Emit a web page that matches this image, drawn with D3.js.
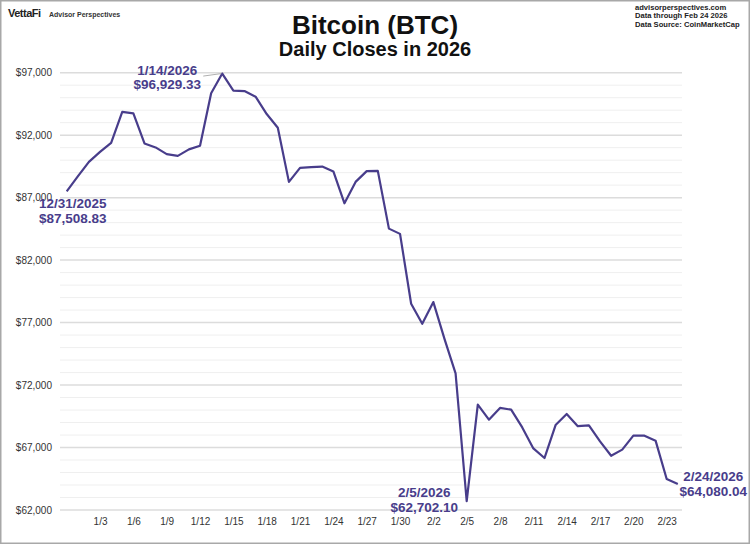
<!DOCTYPE html>
<html>
<head>
<meta charset="utf-8">
<script src="https://cdn.jsdelivr.net/npm/d3@7"></script>
<style>
	body { margin: 0; background: #fff; }
	svg { display: block; font-family: "Liberation Sans", Arial, sans-serif; }
</style>
</head>
<body>
<div id="chart-area"></div>
<script>
// Data
// ****
const days = [
	"2025-12-31",
	"2026-01-01", "2026-01-02", "2026-01-03", "2026-01-04", "2026-01-05", "2026-01-06", "2026-01-07",
	"2026-01-08", "2026-01-09", "2026-01-10", "2026-01-11", "2026-01-12", "2026-01-13", "2026-01-14",
	"2026-01-15", "2026-01-16", "2026-01-17", "2026-01-18", "2026-01-19", "2026-01-20", "2026-01-21",
	"2026-01-22", "2026-01-23", "2026-01-24", "2026-01-25", "2026-01-26", "2026-01-27", "2026-01-28",
	"2026-01-29", "2026-01-30", "2026-01-31",
	"2026-02-01", "2026-02-02", "2026-02-03", "2026-02-04", "2026-02-05", "2026-02-06", "2026-02-07",
	"2026-02-08", "2026-02-09", "2026-02-10", "2026-02-11", "2026-02-12", "2026-02-13", "2026-02-14",
	"2026-02-15", "2026-02-16", "2026-02-17", "2026-02-18", "2026-02-19", "2026-02-20", "2026-02-21",
	"2026-02-22", "2026-02-23", "2026-02-24"
]
const closes = [
	87508.83,
	88700, 89860, 90660, 91390, 93870, 93740, 91340,
	91020, 90480, 90340, 90860, 91150, 95350, 96929.33,
	95560, 95530, 95080, 93690, 92590, 88260, 89380,
	89440, 89490, 89100, 86550, 88260, 89120, 89140,
	84520, 84100, 78510,
	76900, 78640, 75700, 72940, 62702.10, 70430, 69230,
	70170, 70030, 68610, 66930, 66160, 68800, 69690,
	68710, 68770, 67490, 66340, 66830, 67950, 67950,
	67550, 64480, 64080.04
]
const xTicks = ["2026-01-03", "2026-01-06", "2026-01-09", "2026-01-12", "2026-01-15", "2026-01-18",
	"2026-01-21", "2026-01-24", "2026-01-27", "2026-01-30", "2026-02-02", "2026-02-05",
	"2026-02-08", "2026-02-11", "2026-02-14", "2026-02-17", "2026-02-20", "2026-02-23"]
const yTicks = [62000, 67000, 72000, 77000, 82000, 87000, 92000, 97000]
const callouts = [
	{day: "2025-12-31", date: "12/31/2025", label: "$87,508.83"},
	{day: "2026-01-14", date: "1/14/2026", label: "$96,929.33"},
	{day: "2026-02-05", date: "2/5/2026", label: "$62,702.10"},
	{day: "2026-02-24", date: "2/24/2026", label: "$64,080.04"}
]

// Config
// ******
const width = 750, height = 544
const purple = "#483d8b"
const parse = d3.utcParse("%Y-%m-%d")
const data = days.map((d, i) => ({date: parse(d), value: closes[i]}))

const svg = d3.select("#chart-area")
	.append("svg")
		.attr("width", width)
		.attr("height", height)

svg.append("rect")
	.attr("x", 0.75).attr("y", 0.75)
	.attr("width", width - 1.5).attr("height", height - 1.5)
	.attr("fill", "#fff")
	.attr("stroke", "#a8a8a8")
	.attr("stroke-width", 1.5)

const x = d3.scaleUtc()
	.domain([parse(days[0]), parse(days[days.length - 1])])
	.range([66.7, 677.8])
const y = d3.scaleLinear().domain([62000, 97000]).range([510, 72.7])

// Grid
// ****
const minor = d3.range(62000, 97001, 1000)
svg.append("g").selectAll("line").data(minor).enter().append("line")
	.attr("x1", 60).attr("x2", 682)
	.attr("y1", d => y(d)).attr("y2", d => y(d))
	.attr("stroke", d => d % 5000 === 2000 ? "#dcdcdc" : "#efefef")
	.attr("stroke-width", d => d % 5000 === 2000 ? 1.5 : 1)

// Axes
// ****
const yAxis = d3.axisLeft(y).tickValues(yTicks).tickSize(0).tickPadding(8)
	.tickFormat(d => "$" + d3.format(",")(d))
svg.append("g").attr("transform", "translate(60,0)").call(yAxis)
	.call(g => g.select(".domain").remove())
	.selectAll("text").attr("font-size", "10px").attr("fill", "#333")
	.attr("font-family", "Liberation Sans, Arial, sans-serif")

const fmt = d3.utcFormat("%-m/%-d")
const xAxis = d3.axisBottom(x).tickValues(xTicks.map(parse)).tickSize(0).tickPadding(8)
	.tickFormat(fmt)
svg.append("g").attr("transform", "translate(0,510)").call(xAxis)
	.call(g => g.select(".domain").remove())
	.selectAll("text").attr("font-size", "10px").attr("fill", "#333")
	.attr("font-family", "Liberation Sans, Arial, sans-serif")

// Line
// ****
const line = d3.line().x(d => x(d.date)).y(d => y(d.value))
svg.append("path")
	.datum(data)
	.attr("d", line)
	.attr("fill", "none")
	.attr("stroke", purple)
	.attr("stroke-width", 2.2)
	.attr("stroke-linejoin", "round")

// Callouts
// ********
const offsets = {
	"2025-12-31": {dx: 6, dy: 17},
	"2026-01-14": {dx: -55, dy: 1},
	"2026-02-05": {dx: -42.5, dy: -4},
	"2026-02-24": {dx: 35.5, dy: -3}
}
callouts.forEach(c => {
	const px = x(parse(c.day))
	const py = y(closes[days.indexOf(c.day)])
	const o = offsets[c.day]
	if (c.day === "2026-01-14") {
		svg.append("line")
			.attr("x1", px - 19).attr("y1", py + 2.5)
			.attr("x2", px - 1).attr("y2", py)
			.attr("stroke", "#b0b0b0").attr("stroke-width", 1)
	}
	const t = svg.append("text")
		.attr("text-anchor", "middle")
		.attr("font-size", "13.5px")
		.attr("font-weight", "bold")
		.attr("fill", purple)
	t.append("tspan").attr("x", px + o.dx).attr("y", py + o.dy).text(c.date)
	t.append("tspan").attr("x", px + o.dx).attr("y", py + o.dy + 14.5).text(c.label)
})

// Titles
// ******
svg.append("text").attr("x", 375).attr("y", 33.5)
	.attr("text-anchor", "middle").attr("font-size", "26px").attr("font-weight", "bold")
	.attr("fill", "#111").text("Bitcoin (BTC)")
svg.append("text").attr("x", 375).attr("y", 56)
	.attr("text-anchor", "middle").attr("font-size", "20px").attr("font-weight", "bold")
	.attr("fill", "#111").text("Daily Closes in 2026")

const notes = ["advisorperspectives.com", "Data through Feb 24 2026", "Data Source: CoinMarketCap"]
svg.append("g").selectAll("text").data(notes).enter().append("text")
	.attr("x", 635).attr("y", (d, i) => 10 + i * 8.3)
	.attr("font-size", "7.6px").attr("font-weight", "bold").attr("fill", "#222")
	.text(d => d)

svg.append("text").attr("x", 8).attr("y", 16.5)
	.attr("font-size", "11px").attr("font-weight", "bold").attr("letter-spacing", "-0.5px")
	.attr("fill", "#222").text("VettaFi")
svg.append("text").attr("x", 49).attr("y", 16.5)
	.attr("font-size", "7px").attr("font-weight", "bold")
	.attr("fill", "#333").text("Advisor Perspectives")
</script>
</body>
</html>
